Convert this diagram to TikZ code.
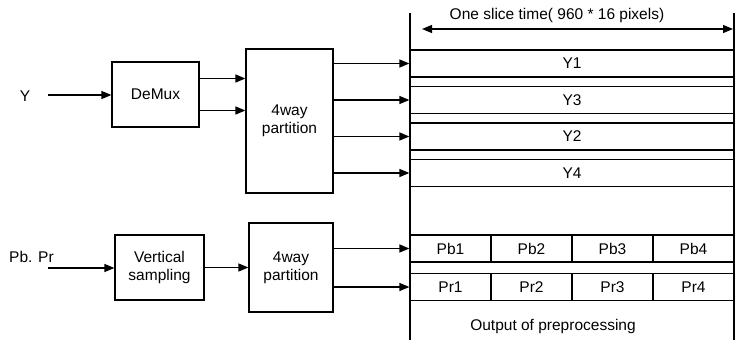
\documentclass[tikz,border=0pt]{standalone}
\usepackage{fontspec}
\setmainfont{Liberation Sans}
\usetikzlibrary{arrows.meta, positioning}

\begin{document}
\begin{tikzpicture}[x=1pt,y=-1pt,
  font=\fontsize{15.5}{18}\selectfont,
  box/.style={draw, line width=1.2pt, align=center, inner sep=0pt},
  strip/.style={draw, line width=1.2pt, minimum width=324pt, minimum height=27pt, inner sep=0pt},
  cell/.style={draw, line width=1.2pt, minimum width=81pt, minimum height=27pt, inner sep=0pt},
  arr/.style={line width=1.2pt, -{Triangle[length=10pt,width=8pt]}}]
\useasboundingbox (0,0) rectangle (742,340);

% luma path
\node (ylab) at (25,96) {Y};
\coordinate (yin) at (48,95);
\node[box, minimum width=87pt, minimum height=65pt] (demux) at (155.5,94.5) {DeMux};
\node[box, minimum width=87pt, minimum height=144pt] (part1) at (289.5,121) {4way\\partition};
\draw[arr] (yin) -- (yin -| demux.west);
\draw[arr] ([yshift=16pt]demux.east) -- ([yshift=16pt]demux.east -| part1.west);
\draw[arr] ([yshift=-16pt]demux.east) -- ([yshift=-16pt]demux.east -| part1.west);

% chroma path
\node (clab) at (31.5,257) {Pb. Pr};
\coordinate (cin) at (48,268);
\node[box, minimum width=89pt, minimum height=65pt] (vsamp) at (159.5,267.5) {Vertical\\sampling};
\node[box, minimum width=84pt, minimum height=89pt] (part2) at (291,267.5) {4way\\partition};
\draw[arr] (cin) -- (cin -| vsamp.west);
\draw[arr] (vsamp) -- (part2);

% slice time frame
\coordinate (lt) at (410,13);
\coordinate (lb) at (410,340);
\coordinate (rt) at (734,13);
\coordinate (rb) at (734,340);
\draw[line width=1.2pt] (lt) -- (lb);
\draw[line width=1.2pt] (rt) -- (rb);
\node (slice) at (557,15) {One slice time( 960 * 16 pixels)};
\coordinate (sl) at (422,29);
\coordinate (sr) at (733,29);
\draw[line width=1.2pt, {Triangle[length=10pt,width=8pt]}-{Triangle[length=10pt,width=8pt]}] (sl) -- (sr);

% Y strips
\foreach \n/\lab/\yy in {1/Y1/63.5, 2/Y3/100, 3/Y2/136.5, 4/Y4/173} {
  \node[strip] (ys\n) at (572,\yy) {\lab};
  \draw[arr] (part1.east |- ys\n) -- (ys\n.west);
}

% Pb / Pr cells
\foreach \i in {1,...,4} {
  \node[cell] (pb\i) at ({410+81*(\i-0.5)},248.5) {Pb\i};
  \node[cell] (pr\i) at ({410+81*(\i-0.5)},287) {Pr\i};
}
\draw[arr] (part2.east |- pb1) -- (pb1.west);
\draw[arr] (part2.east |- pr1) -- (pr1.west);

\node (out) at (553,326) {Output of preprocessing};
\end{tikzpicture}
\end{document}
